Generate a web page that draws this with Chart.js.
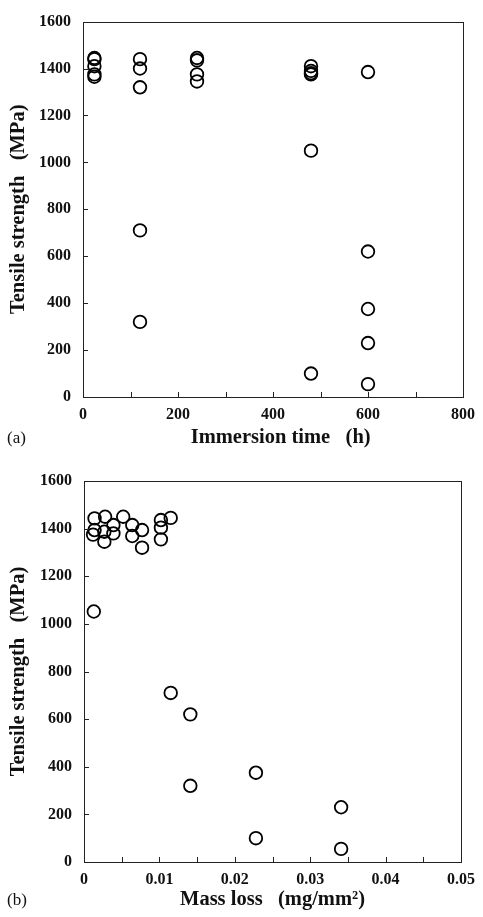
<!DOCTYPE html>
<html>
<head>
<meta charset="utf-8">
<script src="https://cdn.jsdelivr.net/npm/chart.js@4/dist/chart.umd.min.js"></script>
<style>
  html, body { margin:0; padding:0; background:#fff; }
  body { width:483px; height:917px; position:relative; overflow:hidden; }
  canvas { position:absolute; left:0; }
  #c1 { top:0; }
  #c2 { top:458px; }
  .lab { position:absolute; font-family:"Liberation Serif","Times New Roman",serif; font-size:17px; color:#111; line-height:1; }
</style>
</head>
<body>
<canvas id="c1" width="483" height="458"></canvas>
<canvas id="c2" width="483" height="459"></canvas>
<div class="lab" style="left:7px; top:429px;">(a)</div>
<div class="lab" style="left:7px; top:891px;">(b)</div>
<script>
// ---- Data (a): tensile strength vs immersion time ----
const timeX = [24,24,24,24,24, 120,120,120,120,120, 240,240,240,240, 480,480,480,480,480,480, 600,600,600,600,600];
const timeY = [1445,1440,1410,1375,1365, 1440,1400,1320,710,320, 1445,1435,1375,1345, 1410,1390,1380,1375,1050,100, 1385,620,375,230,55];

// ---- Data (b): tensile strength vs mass loss ----
const lossX = [0.0014,0.0028,0.0052,0.0014,0.0039,0.0027,0.0039,0.0064,0.0077,0.0064,0.0027,0.0077,0.0115,0.0102,0.0102,0.0102,0.0012,0.0013,0.0115,0.0141,0.0141,0.0228,0.0228,0.0341,0.0341];
const lossY = [1443,1450,1450,1394,1415,1387,1380,1415,1394,1369,1345,1320,1445,1436,1404,1355,1375,1052,710,620,320,375,100,230,55];

// ---- Tick labels ----
const yTicks = [0,200,400,600,800,1000,1200,1400,1600];
const yTickLabels = ['0','200','400','600','800','1000','1200','1400','1600'];
const timeTicks = [0,200,400,600,800];
const timeTickLabels = ['0','200','400','600','800'];
const timeMarks = [100,200,300,400,500,600,700];
const lossTicks = [0,0.01,0.02,0.03,0.04,0.05];
const lossTickLabels = ['0','0.01','0.02','0.03','0.04','0.05'];
const lossMarks = [0.005,0.01,0.015,0.02,0.025,0.03,0.035,0.04,0.045];
const yMarks = [200,400,600,800,1000,1200,1400];

const SERIF = '"Liberation Serif","Times New Roman",serif';

const framePlugin = {
  id: 'frame',
  afterDraw(chart, args, opts) {
    const {ctx, chartArea: a, scales: {x, y}} = chart;
    ctx.save();
    ctx.strokeStyle = '#222';
    ctx.lineWidth = 1;
    ctx.strokeRect(Math.round(a.left) + 0.5, Math.round(a.top) + 0.5, Math.round(a.right - a.left), Math.round(a.bottom - a.top));
    ctx.beginPath();
    (opts.xMarks || []).forEach(v => {
      const px = Math.round(x.getPixelForValue(v)) + 0.5;
      ctx.moveTo(px, a.bottom); ctx.lineTo(px, a.bottom - 5);
    });
    (opts.yMarks || []).forEach(v => {
      const py = Math.round(y.getPixelForValue(v)) + 0.5;
      ctx.moveTo(a.left, py); ctx.lineTo(a.left + 5, py);
    });
    ctx.stroke();
    ctx.restore();
  }
};

function labelFrom(vals, labels) {
  return v => { const i = vals.findIndex(t => Math.abs(t - v) < 1e-9); return i >= 0 ? labels[i] : ''; };
}

function makeChart(id, xs, ys, cfg) {
  const pts = xs.map((v, i) => ({x: v, y: ys[i]}));
  return new Chart(document.getElementById(id), {
    type: 'scatter',
    data: { datasets: [{
      data: pts,
      pointStyle: 'circle',
      pointRadius: 6.3,
      pointHoverRadius: 6.3,
      borderColor: '#000',
      backgroundColor: 'rgba(0,0,0,0)',
      pointBorderWidth: 1.8,
      borderWidth: 1.8
    }]},
    options: {
      responsive: false,
      animation: false,
      devicePixelRatio: 1,
      layout: { padding: cfg.padding },
      plugins: {
        legend: { display: false },
        tooltip: { enabled: false },
        frame: { xMarks: cfg.xMarks, yMarks: yMarks }
      },
      scales: {
        x: {
          type: 'linear',
          min: cfg.xMin, max: cfg.xMax,
          afterBuildTicks: s => { s.ticks = cfg.xTicks.map(v => ({value: v})); },
          afterFit: s => { s.height = cfg.xHeight; },
          grid: { display: false, drawTicks: false },
          border: { display: false },
          ticks: {
            autoSkip: false, maxRotation: 0, padding: 8,
            color: '#111',
            font: { family: SERIF, size: 16, weight: 'bold' },
            callback: labelFrom(cfg.xTicks, cfg.xTickLabels)
          },
          title: {
            display: true, text: cfg.xTitle, color: '#111',
            font: { family: SERIF, size: 20.5, weight: 'bold' },
            padding: { top: 0, bottom: cfg.xTitlePad }
          }
        },
        y: {
          type: 'linear',
          min: 0, max: 1600,
          afterBuildTicks: s => { s.ticks = yTicks.map(v => ({value: v})); },
          afterFit: s => { s.width = cfg.yWidth; },
          grid: { display: false, drawTicks: false },
          border: { display: false },
          ticks: {
            autoSkip: false, padding: 12,
            color: '#111',
            font: { family: SERIF, size: 16, weight: 'bold' },
            callback: labelFrom(yTicks, yTickLabels)
          },
          title: {
            display: true, text: 'Tensile strength   (MPa)', color: '#111',
            font: { family: SERIF, size: 20.5, weight: 'bold' },
            padding: { top: 6, bottom: 0 }
          }
        }
      }
    },
    plugins: [framePlugin]
  });
}

makeChart('c1', timeX, timeY, {
  padding: { top: 16, right: 14, left: 0, bottom: 0 },
  xMin: 0, xMax: 800, xTicks: timeTicks, xTickLabels: timeTickLabels, xMarks: timeMarks,
  xTitle: '   Immersion time   (h)', xTitlePad: 8,
  xHeight: 61, yWidth: 83
});

makeChart('c2', lossX, lossY, {
  padding: { top: 23, right: 14, left: 0, bottom: 0 },
  xMin: 0, xMax: 0.05, xTicks: lossTicks, xTickLabels: lossTickLabels, xMarks: lossMarks,
  xTitle: 'Mass loss   (mg/mm²)', xTitlePad: 5,
  xHeight: 55, yWidth: 84
});
</script>
</body>
</html>
